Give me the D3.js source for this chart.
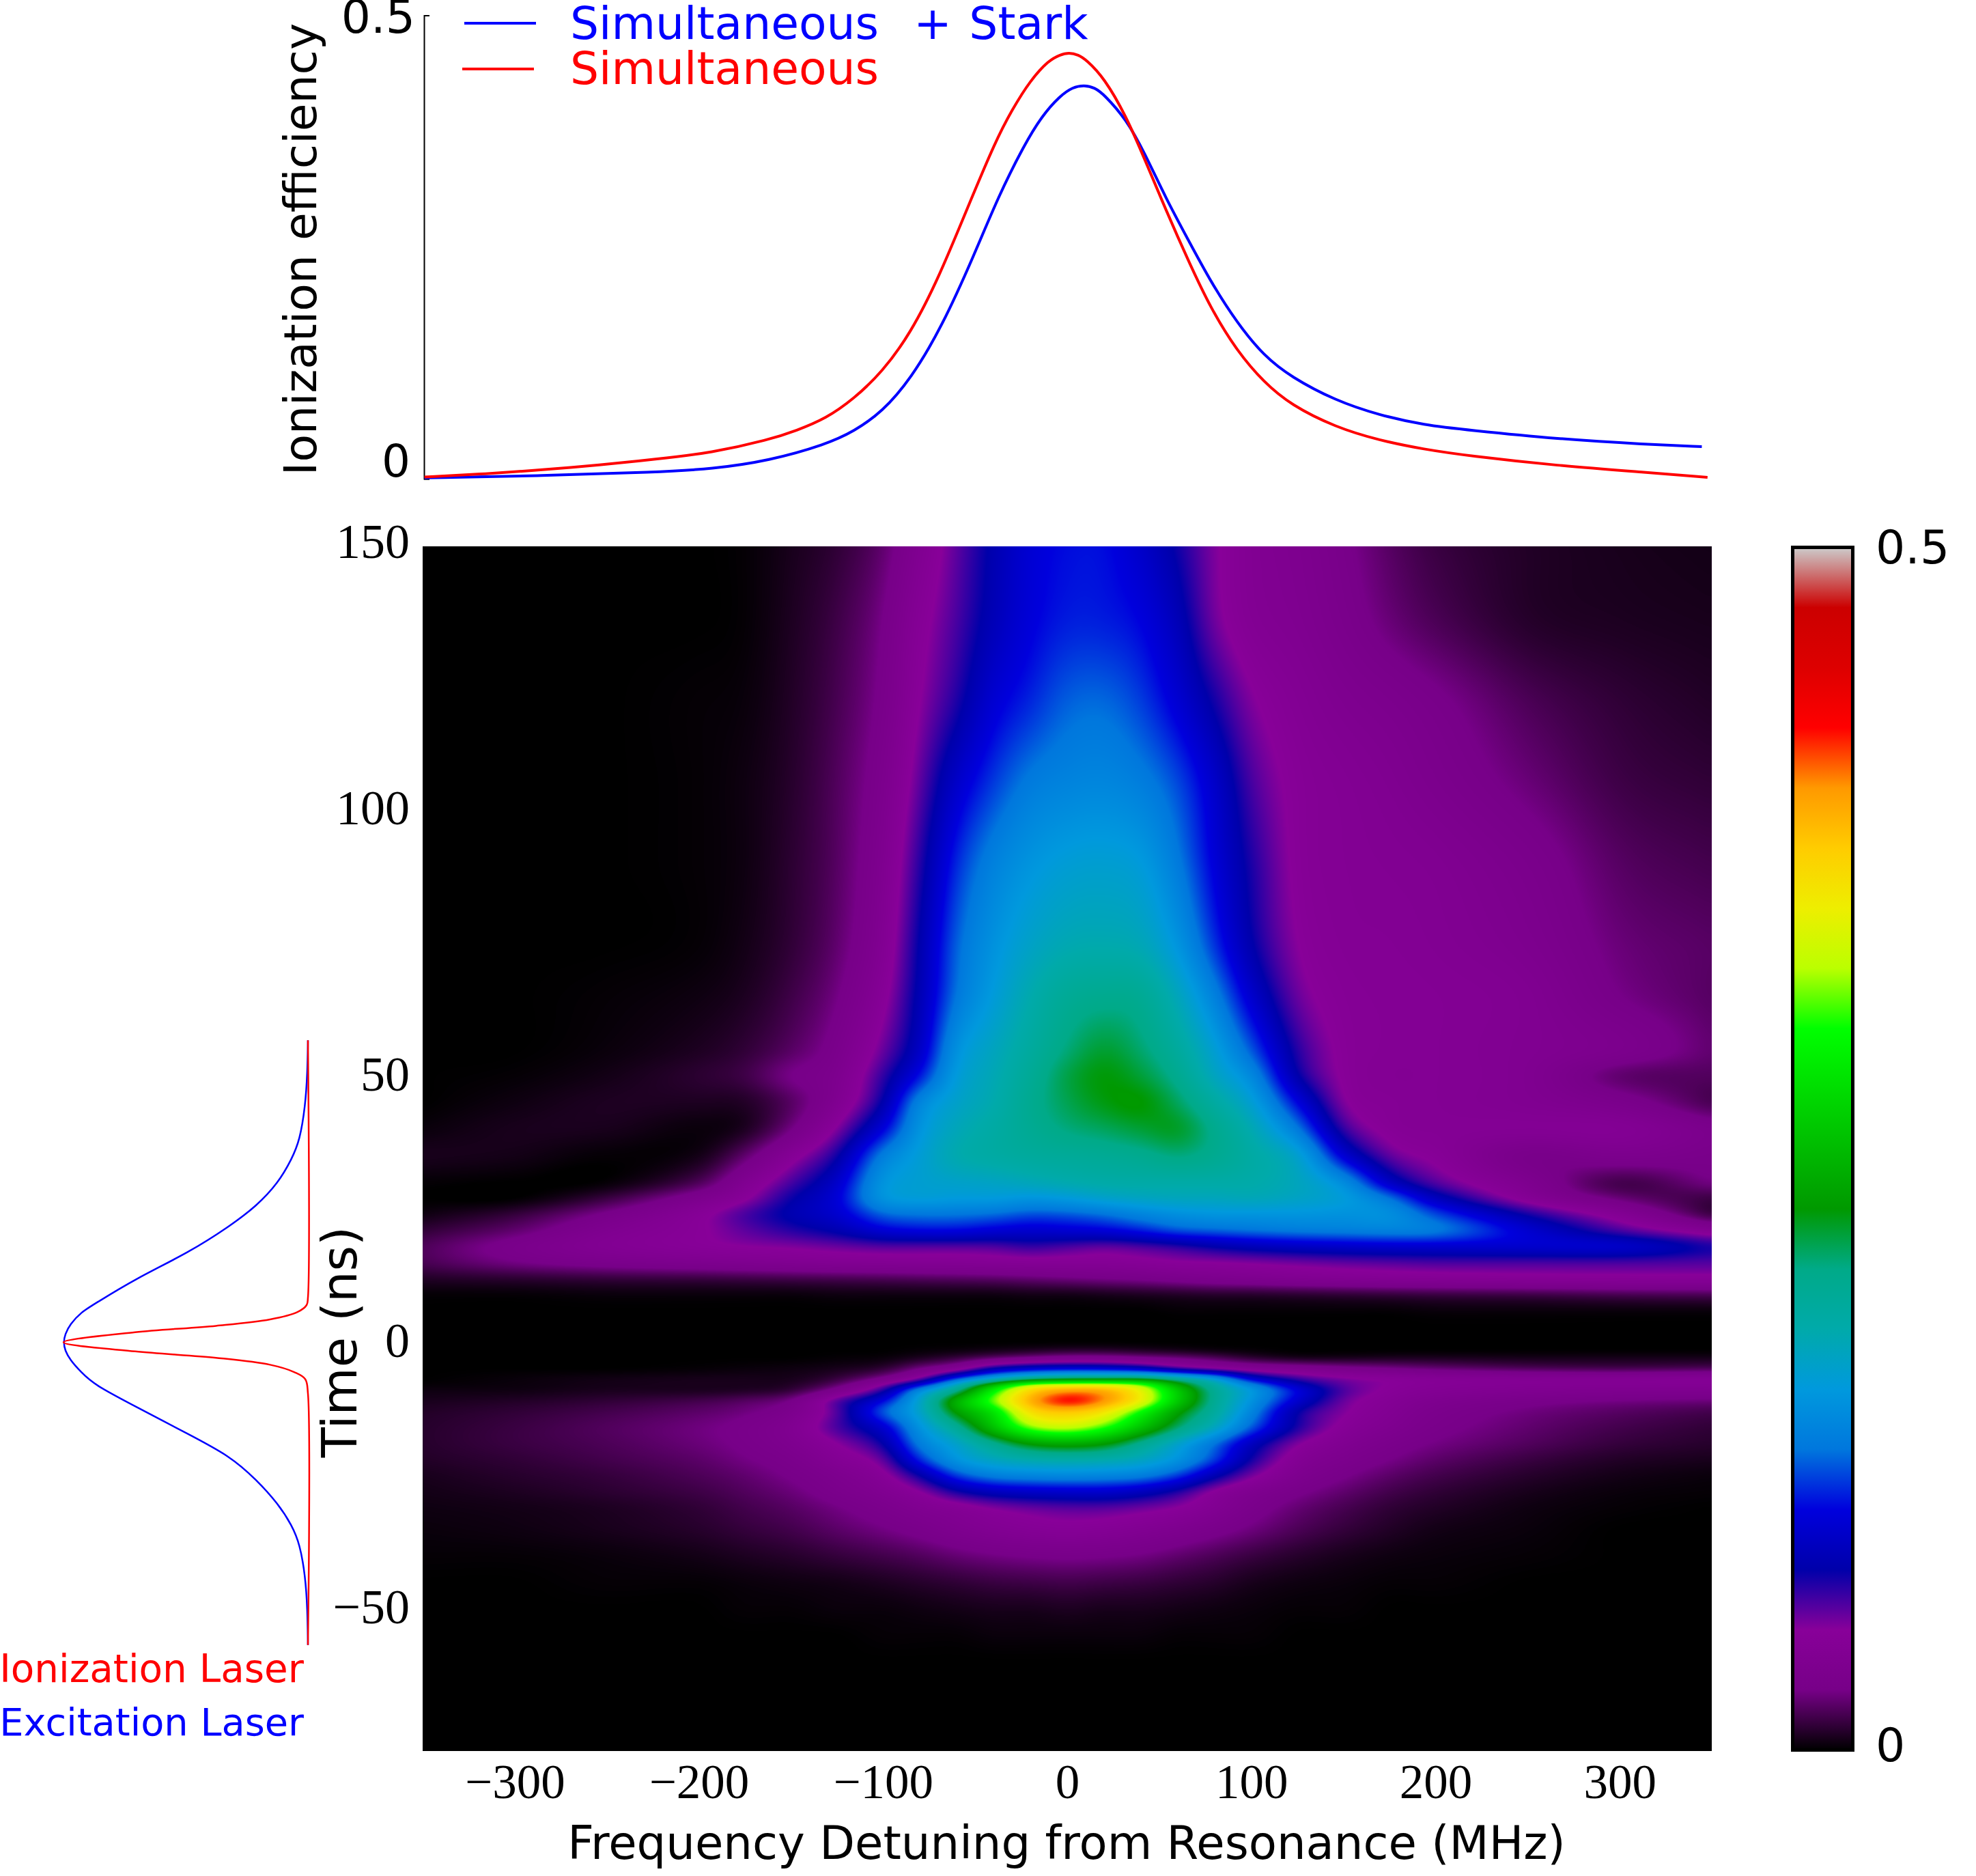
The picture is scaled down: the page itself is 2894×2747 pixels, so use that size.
<!DOCTYPE html>
<html>
<head>
<meta charset="utf-8">
<script src="https://cdn.jsdelivr.net/npm/d3@7"></script>
<style>
  html, body { margin: 0; background: #fff; }
  #wrap { position: relative; width: 2894px; height: 2747px; overflow: hidden; }
  canvas, svg { position: absolute; left: 0; top: 0; }
  text { white-space: pre; }
</style>
</head>
<body>
<div id="wrap"><canvas id="heat"></canvas><svg id="fig" width="2894" height="2747"></svg></div>
<script>
// Detuning (MHz) of each map column.
const detuning = [-350,-300,-250,-200,-175,-150,-125,-100,-80,-60,-40,-20,0,20,40,60,80,100,125,150,175,200,250,300,350];
// Time (ns) of each map row, top to bottom.
const times = [149.4,135,120,105,90,75,65,55,50,45,40,35,30,27,24,21,18,15,12,9,6,3,0,-1.5,-3,-5,-7,-8,-9,-11,-13,-16,-19,-22,-25,-28,-31,-35,-40,-45,-50,-55,-60,-76.7];
// Ionization efficiency map in thousandths, one row per time.
const efficiency = [
[0,0,0,0,1,5,10,20,38,58,78,95,102,102,90,72,52,40,35,27,18,12,7,5,4],
[0,0,0,0,1,6,13,25,45,62,82,98,106,106,100,82,55,42,37,30,22,16,8,6,5],
[0,0,0,1,2,7,15,28,50,70,95,108,120,122,113,95,72,52,42,36,32,27,16,10,7],
[0,0,0,1,3,8,17,32,58,90,112,128,134,136,130,115,90,62,46,41,37,32,22,13,10],
[0,0,0,1,3,9,18,36,68,108,132,146,154,156,151,128,97,70,47,42,40,38,30,18,14],
[0,0,0,1,4,10,20,40,76,120,144,161,171,173,169,146,110,76,50,43,42,40,34,22,18],
[0,0,1,3,6,13,24,46,80,126,152,174,190,195,192,167,132,92,56,45,43,42,38,25,18],
[0,0,2,6,10,18,30,56,88,144,165,184,203,216,205,185,155,118,68,47,43,42,38,32,20],
[0,1,4,9,13,25,34,66,104,152,170,190,212,224,215,195,165,138,76,48,42,42,37,20,17],
[0,3,6,6,7,18,38,76,135,160,174,194,210,222,226,208,182,156,100,52,44,42,38,30,15],
[2,5,5,2,6,24,52,98,146,168,180,192,202,208,215,218,196,172,128,66,46,43,42,42,30],
[5,4,1,4,20,44,72,130,154,173,180,185,188,191,195,202,194,180,158,95,58,47,28,32,28],
[1,0,1,16,38,62,90,146,156,160,163,168,173,177,178,178,178,176,166,140,88,60,35,14,24],
[0,0,12,33,48,73,96,145,152,150,150,146,150,158,163,166,166,168,162,152,125,85,44,22,12],
[3,11,27,46,62,78,92,120,125,125,122,116,118,124,134,142,146,146,146,144,142,115,72,42,12],
[10,20,36,48,58,68,78,95,100,100,95,92,94,97,105,116,120,124,128,130,132,128,93,62,40],
[16,29,40,47,50,52,56,60,60,60,61,66,62,58,62,68,76,82,87,90,92,92,92,90,70],
[15,24,30,34,36,38,40,41,42,42,43,44,44,44,46,49,50,52,55,58,60,62,62,62,60],
[7,9,11,12,13,14,15,16,17,18,19,21,23,25,27,30,33,35,38,40,42,43,45,46,46],
[1,1,2,2,2,2,3,3,3,3,3,4,4,5,6,7,8,8,9,10,11,12,13,15,16],
[0,0,0,0,0,0,0,0,0,0,0,0,0,0,0,1,1,1,1,1,1,2,2,2,2],
[0,0,0,0,0,0,0,0,0,0,0,0,0,0,0,0,0,0,0,0,0,0,0,0,0],
[0,0,0,0,0,0,0,0,0,0,0,0,0,0,0,0,0,0,0,0,0,0,0,0,0],
[0,0,0,0,0,0,0,0,1,2,4,6,8,8,6,4,2,1,0,0,0,0,0,0,0],
[0,0,0,0,0,0,1,2,6,12,20,27,32,32,28,24,18,10,5,5,6,6,5,5,5],
[0,0,0,1,2,3,5,10,25,42,78,95,100,98,88,66,52,42,36,30,26,22,17,15,17],
[0,2,4,5,5,5,12,30,58,120,168,205,222,226,228,200,162,100,68,55,50,46,44,44,46],
[1,2,4,5,5,7,20,52,100,170,255,335,352,352,325,240,180,135,85,58,49,44,41,40,41],
[3,3,5,5,6,10,30,68,140,195,290,368,395,390,345,262,192,150,100,62,48,42,38,36,36],
[5,7,10,14,18,26,60,100,160,245,315,390,428,402,350,262,192,145,92,56,43,35,28,24,22],
[7,10,14,19,23,32,60,118,160,230,280,362,378,358,298,232,185,135,75,52,40,31,23,18,14],
[8,12,17,23,28,38,62,92,145,190,255,315,330,305,255,205,165,118,70,46,36,28,20,14,10],
[8,12,16,22,27,35,50,74,130,160,195,228,238,228,195,160,125,85,52,38,30,24,17,11,8],
[7,10,14,19,24,30,42,58,108,146,165,175,178,175,165,145,112,72,42,32,25,19,12,7,5],
[5,8,11,16,20,26,34,46,74,112,130,135,137,135,130,112,80,54,35,26,19,14,8,4,2],
[4,6,9,13,17,22,30,38,50,72,85,90,92,92,85,70,48,36,27,20,14,10,5,2,1],
[3,4,6,10,14,18,24,31,38,44,52,57,60,60,56,50,40,30,21,15,10,7,3,1,0],
[2,3,5,8,11,14,19,24,29,35,40,44,46,44,40,35,29,23,16,11,7,4,2,0,0],
[1,1,2,4,6,8,11,14,17,21,24,26,27,26,24,20,16,12,8,5,3,2,1,0,0],
[0,0,1,1,2,3,4,6,8,10,12,13,14,13,12,10,8,5,3,2,1,1,0,0,0],
[0,0,0,0,1,1,2,2,3,4,5,5,6,5,5,4,3,2,1,1,0,0,0,0,0],
[0,0,0,0,0,0,0,1,1,1,2,2,2,2,2,1,1,1,0,0,0,0,0,0,0],
[0,0,0,0,0,0,0,0,0,0,0,0,0,0,0,0,0,0,0,0,0,0,0,0,0],
[0,0,0,0,0,0,0,0,0,0,0,0,0,0,0,0,0,0,0,0,0,0,0,0,0]
];

// Colour map stops (fraction of the 0 to 0.5 range).
const colourStops = [0,.05,.1,.15,.2,.25,.3,.35,.4,.45,.5,.55,.6,.65,.7,.75,.8,.85,.9,.95,1];
const colourValues = ["#000000","#770088","#880099","#0000aa","#0000dd","#0077dd","#0099dd","#00aaaa","#00aa88","#009900","#00bb00","#00dd00","#00ff00","#bbff00","#eeee00","#ffcc00","#ff9900","#ff0000","#dd0000","#cc0000","#cccccc"];

// Spectra in the upper panel: detuning (MHz) and ionization efficiency.
const starkDetuning = [-349,-285,-223.4,-192.6,-161.9,-131,-115.7,-100.4,-85,-68,-50.5,-37.3,-23.4,-13.7,-4,3,9.2,15,20,32,41.7,53.8,65.9,78,92.4,106.9,121.4,145.5,169.6,193.8,217.9,266.2,314.4,344.6,344.6];
const starkEfficiency = [.001,.0032,.007,.0106,.0194,.037,.0511,.0723,.1075,.164,.2415,.305,.36,.3915,.413,.4225,.4248,.422,.4146,.388,.353,.3017,.2571,.2123,.1676,.1324,.11,.0844,.0685,.0579,.0525,.0429,.0371,.0346,.0346];
const plainDetuning = [-349,-315.5,-285,-254,-223.6,-193,-162,-147,-131,-116,-100.5,-85,-69.7,-54,-39,-30,-20,-10,-4,1,6,10.4,20,32,41.7,53.8,65.9,78,92.4,106.9,121.4,145.5,169.6,193.8,217.9,266.2,314.4,347.7,347.7];
const plainEfficiency = [.0018,.0053,.0095,.0148,.021,.028,.042,.052,.065,.086,.115,.157,.217,.293,.364,.398,.43,.4515,.4575,.4598,.4575,.452,.4328,.3913,.3465,.289,.2346,.1835,.1372,.1039,.0797,.0557,.0413,.0317,.0247,.0141,.0068,.0015,.0015];

// Laser pulse envelopes, normalised to their peak, against time (ns).
const excitationTime = [56.7,50.6,44.3,38,34.4,29.9,25.6,21.8,16.9,11.9,7.2,5.66,3.4,1.5,0,-1.5,-3.3,-5.6,-8,-12,-17.3,-21.3,-25.8,-30.3,-34.3,-37.9,-43.8,-50,-56.8,-56.8];
const excitationLevel = [0,.002,.011,.033,.066,.122,.21,.32,.486,.707,.873,.928,.973,.994,1,.994,.973,.928,.873,.707,.486,.32,.21,.122,.066,.033,.011,.002,0,0];
const ionizationTime = [56.7,8.4,7,5.66,4.3,3.1,1.9,0,-1.7,-2.9,-4.2,-5.6,-6.9,-9.6,-56.8];
const ionizationLevel = [0,0,.0055,.044,.155,.376,.707,1,.707,.376,.155,.055,.011,0,0];

const xTicks = [-300,-200,-100,0,100,200,300];
const tTicks = [-50,0,50,100,150];

const x = d3.scaleLinear().domain([-350, 350]).range([619, 2507]);
const y = d3.scaleLinear().domain([-76.7, 149.4]).range([2564, 800]);
const eff = d3.scaleLinear().domain([0, .5]).range([701, 22.5]);
const pulse = d3.scaleLinear().domain([0, 1]).range([451, 93]);
const colour = d3.scaleLinear().domain(colourStops.map(f => f * 500)).range(colourValues).clamp(true);

const svg = d3.select("#fig");
const SANS = "'DejaVu Sans'";
const SERIF = "'Liberation Serif'";

// Cubic Hermite weights for sampling a value at `v` along a non-uniform grid.
function hermite(grid, v) {
  const desc = grid[0] > grid[grid.length - 1];
  let i = 0;
  while (i < grid.length - 2 && (desc ? grid[i + 1] >= v : grid[i + 1] <= v)) i++;
  const h = grid[i + 1] - grid[i], s = Math.min(1, Math.max(0, (v - grid[i]) / h));
  return {i, h, s, a: 2*s*s*s - 3*s*s + 1, b: s*s*s - 2*s*s + s, c: -2*s*s*s + 3*s*s, d: s*s*s - s*s};
}
function sample(grid, vals, w) {
  const {i, h, a, b, c, d} = w, n = grid.length;
  const m0 = i > 0 ? (vals[i + 1] - vals[i - 1]) / (grid[i + 1] - grid[i - 1]) : (vals[1] - vals[0]) / (grid[1] - grid[0]);
  const m1 = i < n - 2 ? (vals[i + 2] - vals[i]) / (grid[i + 2] - grid[i]) : (vals[n - 1] - vals[n - 2]) / (grid[n - 1] - grid[n - 2]);
  return a * vals[i] + b * h * m0 + c * vals[i + 1] + d * h * m1;
}

// Paint the efficiency map onto the canvas through the colour scale.
(function drawMap() {
  const [x0, x1] = x.range(), [y1, y0] = y.range();
  const w = x1 - x0, h = y1 - y0;
  const cv = document.getElementById("heat");
  cv.width = w; cv.height = h;
  cv.style.left = x0 + "px"; cv.style.top = y0 + "px";
  const ctx = cv.getContext("2d");
  const img = ctx.createImageData(w, h);
  const lut = d3.range(2001).map(k => d3.rgb(colour(k / 4)));
  const colW = d3.range(w).map(px => hermite(detuning, x.invert(x0 + px + .5)));
  const columns = detuning.map((_, j) => efficiency.map(r => r[j]));
  const field = new Float32Array(w * h);
  for (let py = 0; py < h; py++) {
    const rw = hermite(times, y.invert(y0 + py + .5));
    const row = columns.map(c => sample(times, c, rw));
    for (let px = 0; px < w; px++) field[py * w + px] = sample(detuning, row, colW[px]);
  }
  // Soften the seams between grid cells before colouring.
  if (d3.blur2) d3.blur2({data: field, width: w, height: h}, 10, 4);
  for (let o = 0; o < field.length; o++) {
    const c = lut[Math.round(Math.max(0, Math.min(500, field[o])) * 4)];
    img.data[4 * o] = c.r; img.data[4 * o + 1] = c.g; img.data[4 * o + 2] = c.b; img.data[4 * o + 3] = 255;
  }
  ctx.putImageData(img, 0, 0);
})();

// Map axes: labels only, no axis lines or tick marks.
const bottomAxis = d3.axisBottom(x).tickValues(xTicks).tickSize(0).tickPadding(0)
  .tickFormat(d => d < 0 ? "\u2212" + Math.abs(d) : d);
const gx = svg.append("g").attr("transform", "translate(0,2633)").call(bottomAxis);
gx.select(".domain").remove();
gx.selectAll("text").attr("dy", 0).attr("y", 0).attr("font-family", SERIF).attr("font-size", 71).attr("fill", "#000");

const leftAxis = d3.axisLeft(y).tickValues(tTicks).tickSize(0).tickPadding(0)
  .tickFormat(d => d < 0 ? "\u2212" + Math.abs(d) : d);
const gt = svg.append("g").attr("transform", "translate(600,0)").call(leftAxis);
gt.select(".domain").remove();
gt.selectAll("text").attr("dy", 21).attr("x", 0).attr("font-family", SERIF).attr("font-size", 72).attr("fill", "#000");

svg.append("text").text("Frequency Detuning from Resonance (MHz)")
  .attr("x", 1562).attr("y", 2722).attr("text-anchor", "middle")
  .attr("font-family", SANS).attr("font-size", 67.3);
svg.append("text").text("Time (ns)")
  .attr("transform", "translate(522,1965) rotate(-90)").attr("text-anchor", "middle")
  .attr("font-family", SANS).attr("font-size", 72);

// Upper panel: spectra against the same detuning scale.
const panel = svg.append("g");
const effAxis = d3.axisRight(eff).tickValues([0, .5]).tickSize(8).tickFormat("");
const ge = panel.append("g").attr("transform", "translate(621,0)").call(effAxis);
ge.select(".domain").attr("stroke", "#000").attr("stroke-width", 2);
ge.selectAll(".tick line").attr("stroke", "#000").attr("stroke-width", 2);
panel.append("text").text("0.5").attr("x", 608).attr("y", 48).attr("text-anchor", "end")
  .attr("font-family", SANS).attr("font-size", 68);
panel.append("text").text("0").attr("x", 601).attr("y", 698).attr("text-anchor", "end")
  .attr("font-family", SANS).attr("font-size", 66);
panel.append("text").text("Ionization efficiency")
  .attr("transform", "translate(463,365) rotate(-90)").attr("text-anchor", "middle")
  .attr("font-family", SANS).attr("font-size", 66.3);

const spectrum = (xs, ys) => d3.line().x((_, i) => x(xs[i])).y((_, i) => eff(ys[i])).curve(d3.curveBasis)(ys);
panel.append("path").attr("d", spectrum(starkDetuning, starkEfficiency)).attr("fill", "none").attr("stroke", "#0000ff").attr("stroke-width", 4);
panel.append("path").attr("d", spectrum(plainDetuning, plainEfficiency)).attr("fill", "none").attr("stroke", "#ff0000").attr("stroke-width", 4);

// Legend.
const legend = [["Simultaneous  + Stark", "#0000ff", 680, 34, 57, 4.5], ["Simultaneous", "#ff0000", 677, 101, 123, 0]];
legend.forEach(([label, c, lx, ly, by, gap]) => {
  svg.append("line").attr("x1", lx).attr("x2", lx + 105).attr("y1", ly).attr("y2", ly).attr("stroke", c).attr("stroke-width", 4);
  svg.append("text").text(label).attr("x", 835).attr("y", by).attr("fill", c)
    .attr("word-spacing", gap).attr("font-family", SANS).attr("font-size", 66.3);
});

// Laser pulse envelopes to the left of the map.
const envelope = (ts, ls, curve) => d3.line().x((_, i) => pulse(ls[i])).y((_, i) => y(ts[i])).curve(curve)(ls);
svg.append("path").attr("d", envelope(excitationTime, excitationLevel, d3.curveBasis)).attr("fill", "none").attr("stroke", "#0000ff").attr("stroke-width", 2.5);
svg.append("path").attr("d", envelope(ionizationTime, ionizationLevel, d3.curveCatmullRom.alpha(.5))).attr("fill", "none").attr("stroke", "#ff0000").attr("stroke-width", 2.5);
svg.append("text").text("Ionization Laser").attr("x", 445).attr("y", 2463).attr("text-anchor", "end")
  .attr("fill", "#ff0000").attr("font-family", SANS).attr("font-size", 56.4);
svg.append("text").text("Excitation Laser").attr("x", 445).attr("y", 2541).attr("text-anchor", "end")
  .attr("fill", "#0000ff").attr("font-family", SANS).attr("font-size", 55.8);

// Colour bar.
const defs = svg.append("defs");
const grad = defs.append("linearGradient").attr("id", "bar").attr("x1", 0).attr("x2", 0).attr("y1", 1).attr("y2", 0);
colourStops.forEach((f, i) => grad.append("stop").attr("offset", f).attr("stop-color", colourValues[i]));
svg.append("rect").attr("x", 2625.5).attr("y", 801.5).attr("width", 88).attr("height", 1761)
  .attr("fill", "url(#bar)").attr("stroke", "#000").attr("stroke-width", 5);
svg.append("text").text("0.5").attr("x", 2747).attr("y", 825).attr("font-family", SANS).attr("font-size", 68);
svg.append("text").text("0").attr("x", 2747).attr("y", 2579).attr("font-family", SANS).attr("font-size", 68);
</script>
</body>
</html>
